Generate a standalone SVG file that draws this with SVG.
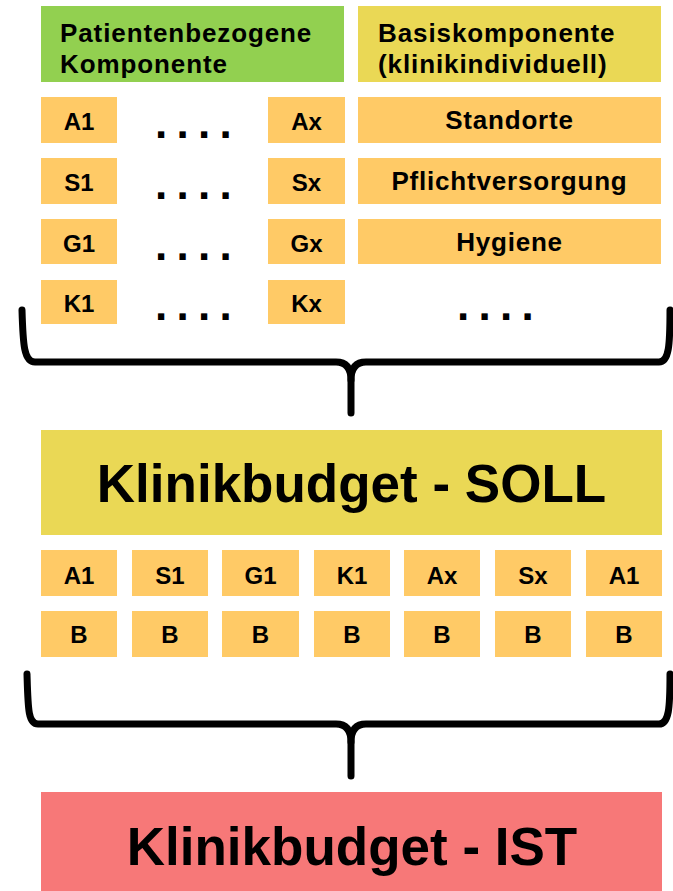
<svg xmlns="http://www.w3.org/2000/svg" width="673" height="891" viewBox="0 0 673 891">
<style>
text{font-family:"Liberation Sans",Arial,Helvetica,sans-serif;font-weight:bold;fill:#000}
.o{fill:#FFCA66}
.s{font-size:24px;text-anchor:middle}
.m{font-size:26px;text-anchor:middle;letter-spacing:0.8px}
.h{font-size:26px;letter-spacing:0.9px}
.big{font-size:53px;text-anchor:middle}
.dots{font-size:44px;letter-spacing:9.3px}
.br{fill:none;stroke:#000;stroke-width:7;stroke-linecap:round;stroke-linejoin:round}
</style>
<rect width="673" height="891" fill="#fff"/>
<g id="hdr-patient"><rect x="41" y="6" width="303" height="76" fill="#92D050"/><text class="h" x="60" y="42">Patientenbezogene</text><text class="h" x="60" y="73">Komponente</text></g>
<g id="hdr-basis"><rect x="358" y="6" width="303" height="76" fill="#EAD855"/><text class="h" x="378" y="42">Basiskomponente</text><text class="h" x="378" y="73">(klinikindividuell)</text></g>
<g id="A1"><rect class="o" x="41" y="97" width="76" height="46"/><text class="s" x="79" y="130">A1</text></g>
<g id="Ax"><rect class="o" x="268" y="97" width="77" height="46"/><text class="s" x="306.5" y="130">Ax</text></g>
<g id="S1"><rect class="o" x="41" y="158" width="76" height="46"/><text class="s" x="79" y="191">S1</text></g>
<g id="Sx"><rect class="o" x="268" y="158" width="77" height="46"/><text class="s" x="306.5" y="191">Sx</text></g>
<g id="G1"><rect class="o" x="41" y="219" width="76" height="45"/><text class="s" x="79" y="252">G1</text></g>
<g id="Gx"><rect class="o" x="268" y="219" width="77" height="45"/><text class="s" x="306.5" y="252">Gx</text></g>
<g id="K1"><rect class="o" x="41" y="280" width="76" height="44"/><text class="s" x="79" y="312">K1</text></g>
<g id="Kx"><rect class="o" x="268" y="280" width="77" height="44"/><text class="s" x="306.5" y="312">Kx</text></g>
<g id="dots-1"><text class="dots" x="155" y="138">....</text></g>
<g id="dots-2"><text class="dots" x="155" y="199">....</text></g>
<g id="dots-3"><text class="dots" x="155" y="260">....</text></g>
<g id="dots-4"><text class="dots" x="155" y="320">....</text></g>
<g id="dots-5"><text class="dots" x="457" y="320">....</text></g>
<g id="standorte"><rect class="o" x="358" y="97" width="303" height="46"/><text class="m" x="509.5" y="129">Standorte</text></g>
<g id="pflicht"><rect class="o" x="358" y="158" width="303" height="46"/><text class="m" x="509.5" y="190">Pflichtversorgung</text></g>
<g id="hygiene"><rect class="o" x="358" y="219" width="303" height="45"/><text class="m" x="509.5" y="251">Hygiene</text></g>
<g id="soll"><rect x="41" y="430" width="621" height="105" fill="#EAD855"/><text class="big" x="351.5" y="502">Klinikbudget - SOLL</text></g>
<g id="row-top">
<rect class="o" x="41" y="550" width="76" height="46"/><text class="s" x="79" y="584">A1</text>
<rect class="o" x="132" y="550" width="76" height="46"/><text class="s" x="170" y="584">S1</text>
<rect class="o" x="222" y="550" width="77" height="46"/><text class="s" x="260.5" y="584">G1</text>
<rect class="o" x="314" y="550" width="76" height="46"/><text class="s" x="352" y="584">K1</text>
<rect class="o" x="404" y="550" width="76" height="46"/><text class="s" x="442" y="584">Ax</text>
<rect class="o" x="495" y="550" width="76" height="46"/><text class="s" x="533" y="584">Sx</text>
<rect class="o" x="586" y="550" width="76" height="46"/><text class="s" x="624" y="584">A1</text>
</g>
<g id="row-b">
<rect class="o" x="41" y="611" width="76" height="46"/><text class="s" x="79" y="643">B</text>
<rect class="o" x="132" y="611" width="76" height="46"/><text class="s" x="170" y="643">B</text>
<rect class="o" x="222" y="611" width="77" height="46"/><text class="s" x="260.5" y="643">B</text>
<rect class="o" x="314" y="611" width="76" height="46"/><text class="s" x="352" y="643">B</text>
<rect class="o" x="404" y="611" width="76" height="46"/><text class="s" x="442" y="643">B</text>
<rect class="o" x="495" y="611" width="76" height="46"/><text class="s" x="533" y="643">B</text>
<rect class="o" x="586" y="611" width="76" height="46"/><text class="s" x="624" y="643">B</text>
</g>
<g id="ist"><rect x="41" y="792" width="621" height="99" fill="#F77878"/><text class="big" x="352" y="865">Klinikbudget - IST</text></g>
<g id="connectors">
<path class="br" d="M22,310 C23,345 24,362 35,362 L336,362 C346,362 351,368 351,380 L351,413"/>
<path class="br" d="M670,310 C670,345 669,362 659,362 L366,362 C356,362 351,368 351,380"/>
<path class="br" d="M27,674 C28,708 28,724 38,724 L336,724 C346,724 351,730 351,742 L351,776"/>
<path class="br" d="M670,674 C670,708 669,724 659,724 L366,724 C356,724 351,730 351,742"/>
</g>
</svg>
